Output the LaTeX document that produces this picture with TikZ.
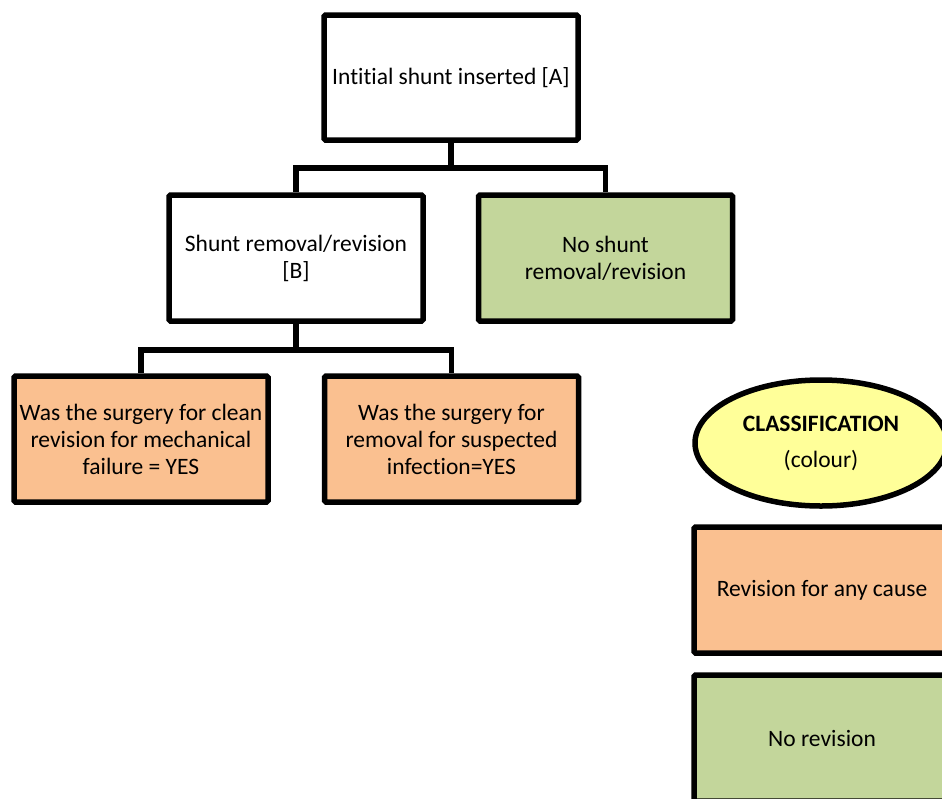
\documentclass[tikz,border=0pt]{standalone}
\usepackage{fontspec}
\setmainfont{Carlito}[Ligatures={NoCommon}]
\usetikzlibrary{shapes.geometric}
\definecolor{orangefill}{HTML}{FAC090}
\definecolor{greenfill}{HTML}{C3D69B}
\definecolor{yellowfill}{HTML}{FFFF99}
\tikzset{
  box/.style={draw=black, line width=5.5pt, rounded corners=1.5pt, minimum width=254pt, minimum height=126pt, inner sep=0pt, align=center, font=\fontsize{23.5}{27}\selectfont},
  orangebox/.style={box, fill=orangefill},
  greenbox/.style={box, fill=greenfill},
  conn/.style={draw=black, line width=5.5pt, line join=miter}
}
\begin{document}
\begin{tikzpicture}[x=1pt,y=1pt]
\useasboundingbox (0,0) rectangle (942,-798);
\node[box, minimum height=125pt] (A) at (451,-77.5) {Intitial shunt inserted [A]};
\node[box] (B) at (296,-258) {Shunt removal/revision\\{[B]}};
\node[greenbox] (C) at (605.5,-258) {No shunt\\removal/revision};
\node[orangebox] (D) at (141,-439) {Was the surgery for clean\\revision for mechanical\\failure = YES};
\node[orangebox] (E) at (451.5,-439) {Was the surgery for\\removal for suspected\\infection=YES};
\node[ellipse, draw=black, line width=5.5pt, fill=yellowfill, minimum width=252pt, minimum height=126pt, inner sep=0pt, align=center, font=\fontsize{23.5}{27}\selectfont] (K) at (821,-443) {\textbf{CLASSIFICATION}\\[9pt](colour)};
\node[orangebox, minimum width=256pt] (L1) at (822,-590) {Revision for any cause};
\node[greenbox, minimum width=256pt] (L2) at (822,-738) {No revision};
\coordinate (jA) at (A.south |- 0,-168);
\coordinate (jB) at (B.south |- 0,-350);
\draw[conn] (A.south) -- (jA);
\draw[conn] (jA) -| (B.north);
\draw[conn] (jA) -| (C.north);
\draw[conn] (B.south) -- (jB);
\draw[conn] (jB) -| (D.north);
\draw[conn] (jB) -| (E.north);
\end{tikzpicture}
\end{document}
